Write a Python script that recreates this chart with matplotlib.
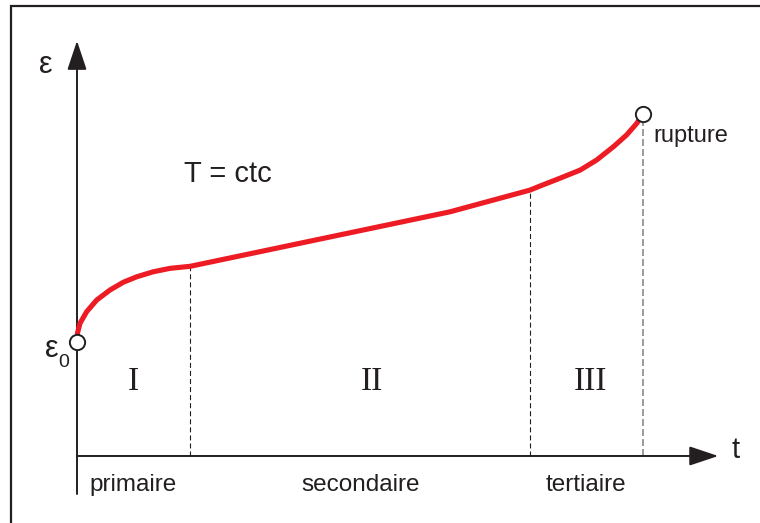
import matplotlib.pyplot as plt
from matplotlib.patches import Rectangle

plt.rcParams['font.family'] = ['Liberation Sans', 'DejaVu Sans']
plt.rcParams['lines.scale_dashes'] = False

# creep curve (t, strain), arbitrary units
t_curve = [0.0, 0.009, 0.053, 0.171, 0.348, 0.583, 0.818, 1.055, 1.348, 1.643, 2.0,
           3.94, 6.59, 8.0,
           8.18, 8.53, 8.89, 9.18, 9.48, 9.71, 9.89, 10.0]
eps_curve = [5.0, 5.39, 5.82, 6.33, 6.84, 7.28, 7.62, 7.86, 8.08, 8.23, 8.32,
             9.33, 10.71, 11.66,
             11.84, 12.18, 12.54, 12.98, 13.57, 14.08, 14.59, 15.0]

# stage limits
t_stage = [2.0, 8.0]
eps_stage = [8.32, 11.66]
t_rupture = 10.0
eps_rupture = 15.0
eps0 = 5.0

stage_roman = ["I", "II", "III"]
stage_roman_t = [0.99, 5.21, 9.08]
stage_names = ["primaire", "secondaire", "tertiaire"]
stage_names_t = [0.99, 5.01, 8.99]

dark = "#231f20"
red = "#ed1c24"

fig = plt.figure(figsize=(7.6, 5.23), dpi=100)
ax = fig.add_axes([0, 0, 1, 1])
ax.set_xlim(-1.3604, 12.067)
ax.set_ylim(-2.939, 20.0)
ax.axis("off")

# outer frame (only top and left edges are visible)
ax.add_patch(Rectangle((0.0145, -0.2), 1.5, 0.9885 + 0.2, transform=ax.transAxes,
                       fill=False, edgecolor=dark, linewidth=1.6))

# axes with arrows
ax.annotate("", xy=(0, 18.21), xytext=(0, -1.667),
            arrowprops=dict(arrowstyle="-|>,head_length=0.9,head_width=0.3",
                            mutation_scale=20, color=dark, lw=1.4,
                            shrinkA=0, shrinkB=0))
ax.annotate("", xy=(11.33, 0), xytext=(0, 0),
            arrowprops=dict(arrowstyle="-|>,head_length=0.9,head_width=0.3",
                            mutation_scale=20, color=dark, lw=1.4,
                            shrinkA=0, shrinkB=0))

# stage separators
for t, e in zip(t_stage, eps_stage):
    ax.plot([t, t], [0, e], color=dark, lw=0.8, dashes=[3.6, 2.2], zorder=2)
ax.plot([t_rupture, t_rupture], [0, eps_rupture], color="#808080", lw=1.1,
        dashes=[5, 2.2], zorder=2)

# curve
ax.plot(t_curve, eps_curve, color=red, lw=3.7, solid_capstyle="round",
        solid_joinstyle="round", zorder=3)
ax.plot([0, t_rupture], [eps0, eps_rupture], "o", ms=11, mfc="white",
        mec=dark, mew=1.4, zorder=4)

# labels
ax.text(-0.548, 16.8, "ε", fontsize=22, ha="center", va="baseline", color=dark)
ax.text(-0.45, 4.34, "ε", fontsize=22, ha="center", va="baseline", color=dark)
ax.text(-0.239, 3.90, "0", fontsize=14, ha="center", va="baseline", color=dark)
ax.text(11.63, -0.1, "t", fontsize=21, ha="center", va="baseline", color=dark)
ax.text(2.668, 12.03, "T = ctc", fontsize=21, ha="center", va="baseline", color=dark)
ax.text(10.19, 13.77, "rupture", fontsize=17, ha="left", va="baseline", color=dark)

for x, s in zip(stage_roman_t, stage_roman):
    ax.text(x, 2.89, s, fontsize=24, family=["Liberation Serif", "DejaVu Serif"],
            ha="center", va="baseline", color=dark)
for x, s in zip(stage_names_t, stage_names):
    ax.text(x, -1.52, s, fontsize=17.5, ha="center", va="baseline", color=dark)

fig.savefig("out.png", dpi=100)
